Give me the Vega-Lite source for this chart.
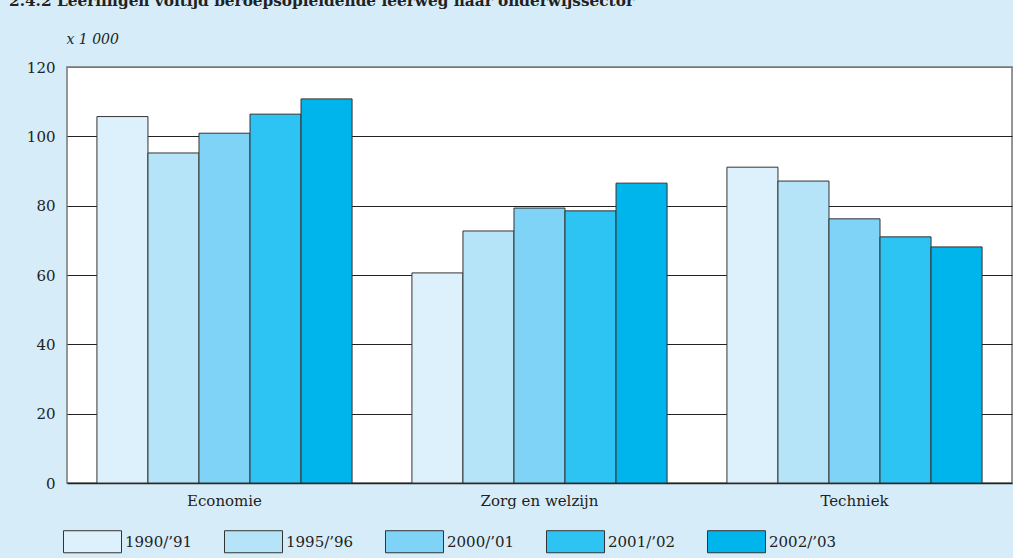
{
  "$schema": "https://vega.github.io/schema/vega-lite/v6.json",
  "autosize": {"type": "none"},
  "padding": {"left": 67, "top": 67, "right": 1, "bottom": 75},
  "width": 945,
  "height": 416,
  "background": "#d6edf9",
  "title": {
    "text": "2.4.2  Leerlingen voltijd beroepsopleidende leerweg naar onderwijssector",
    "anchor": "start",
    "frame": "group",
    "dx": -58,
    "dy": -19,
    "font": "DejaVu Serif",
    "fontSize": 15.3,
    "fontWeight": "bold",
    "color": "#222"
  },
  "config": {
    "view": {"fill": "white", "stroke": "#777", "strokeWidth": 1.5},
    "font": "DejaVu Serif"
  },
  "data": {
    "values": [
      {"sector": "Economie", "jaar": "1990/’91", "waarde": 105.7},
      {"sector": "Economie", "jaar": "1995/’96", "waarde": 95.2},
      {"sector": "Economie", "jaar": "2000/’01", "waarde": 100.9},
      {"sector": "Economie", "jaar": "2001/’02", "waarde": 106.4},
      {"sector": "Economie", "jaar": "2002/’03", "waarde": 110.8},
      {"sector": "Zorg en welzijn", "jaar": "1990/’91", "waarde": 60.6},
      {"sector": "Zorg en welzijn", "jaar": "1995/’96", "waarde": 72.7},
      {"sector": "Zorg en welzijn", "jaar": "2000/’01", "waarde": 79.3},
      {"sector": "Zorg en welzijn", "jaar": "2001/’02", "waarde": 78.5},
      {"sector": "Zorg en welzijn", "jaar": "2002/’03", "waarde": 86.5},
      {"sector": "Techniek", "jaar": "1990/’91", "waarde": 91.1},
      {"sector": "Techniek", "jaar": "1995/’96", "waarde": 87.1},
      {"sector": "Techniek", "jaar": "2000/’01", "waarde": 76.2},
      {"sector": "Techniek", "jaar": "2001/’02", "waarde": 71.0},
      {"sector": "Techniek", "jaar": "2002/’03", "waarde": 68.1}
    ]
  },
  "mark": {"type": "bar", "stroke": "#333", "strokeWidth": 1},
  "encoding": {
    "x": {
      "field": "sector",
      "type": "nominal",
      "sort": ["Economie", "Zorg en welzijn", "Techniek"],
      "scale": {"paddingInner": 0.19, "paddingOuter": 0.095},
      "axis": {
        "title": null,
        "labelAngle": 0,
        "ticks": false,
        "labelPadding": 10,
        "labelFont": "DejaVu Serif",
        "labelFontSize": 15,
        "labelColor": "#222",
        "domainColor": "#222",
        "domainWidth": 1.5
      }
    },
    "xOffset": {
      "field": "jaar",
      "type": "nominal",
      "scale": {"paddingInner": 0, "paddingOuter": 0}
    },
    "y": {
      "field": "waarde",
      "type": "quantitative",
      "scale": {"domain": [0, 120], "nice": false},
      "axis": {
        "values": [0, 20, 40, 60, 80, 100, 120],
        "title": "x 1 000",
        "titleAngle": 0,
        "titleAlign": "left",
        "titleBaseline": "alphabetic",
        "titleX": -1,
        "titleY": -24,
        "titleFont": "DejaVu Serif",
        "titleFontStyle": "italic",
        "titleFontWeight": "normal",
        "titleFontSize": 14,
        "titleColor": "#222",
        "ticks": false,
        "domain": false,
        "labelPadding": 12,
        "labelFont": "DejaVu Serif",
        "labelFontSize": 15,
        "labelColor": "#222",
        "grid": true,
        "gridColor": {"condition": {"test": "datum.value == 120 || datum.value == 0", "value": "#777"}, "value": "#222"},
        "gridWidth": 1
      }
    },
    "fill": {
      "field": "jaar",
      "type": "nominal",
      "scale": {
        "domain": ["1990/’91", "1995/’96", "2000/’01", "2001/’02", "2002/’03"],
        "range": ["#ddf1fc", "#b5e3f8", "#7fd3f6", "#2dc4f3", "#00b4ec"]
      },
      "legend": {
        "title": null,
        "orient": "none",
        "direction": "horizontal",
        "columns": 5,
        "legendX": -4,
        "legendY": 445,
        "padding": 0,
        "symbolType": "M-1,-0.38L1,-0.38L1,0.38L-1,0.38Z",
        "symbolSize": 3364,
        "symbolStrokeColor": "#333",
        "symbolStrokeWidth": 1,
        "symbolOpacity": 1,
        "labelOffset": 3,
        "columnPadding": 29,
        "labelFont": "DejaVu Serif",
        "labelFontSize": 15,
        "labelColor": "#222",
        "labelLimit": 200
      }
    }
  }
}
